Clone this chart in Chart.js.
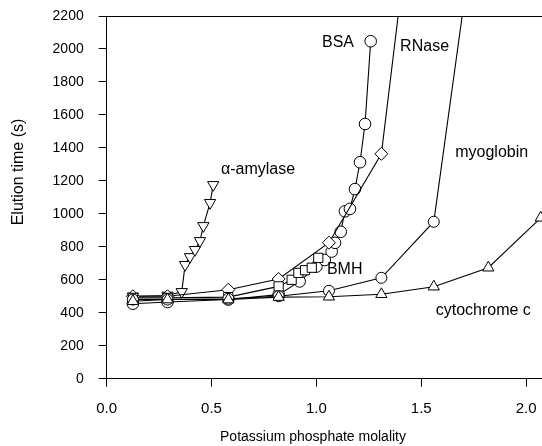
<!DOCTYPE html>
<html><head><meta charset="utf-8">
<script src="https://cdn.jsdelivr.net/npm/chart.js@4.4.0/dist/chart.umd.min.js"></script>
<style>html,body{margin:0;padding:0;background:#fff}#wrap{width:542px;height:446px}</style>
</head><body><div id="wrap"><canvas id="c" width="542" height="446"></canvas></div>
<script>
// ---- data ----
const xTicks = [0, 0.5, 1.0, 1.5, 2.0];
const yTicks = [0, 200, 400, 600, 800, 1000, 1200, 1400, 1600, 1800, 2000, 2200];

const cytoX = [0.125, 0.29, 0.58, 0.82, 1.06, 1.31, 1.56, 1.82, 2.07];
const cytoY = [470, 480, 480, 495, 497, 512, 558, 673, 976];

const myoX = [0.125, 0.29, 0.58, 0.82, 1.06, 1.31, 1.56, 1.82];
const myoY = [480, 480, 485, 500, 533, 612, 952, 3350];

const bmhX = [0.125, 0.29, 0.58, 0.82, 0.882, 0.914, 0.946, 0.978, 1.009];
const bmhY = [490, 490, 495, 560, 600, 642, 658, 673, 733];

const rnaseX = [0.125, 0.29, 0.58, 0.82, 1.06, 1.31, 1.56];
const rnaseY = [500, 500, 540, 605, 825, 1364, 3980];

const bsaX = [0.125, 0.29, 0.58, 0.82, 0.92, 1.0, 1.04, 1.073, 1.089, 1.116, 1.136, 1.16, 1.184, 1.208, 1.232, 1.259];
const bsaY = [455, 465, 480, 510, 590, 680, 720, 771, 824, 891, 1015, 1030, 1150, 1313, 1545, 2047];

const amyX = [0.125, 0.29, 0.358, 0.374, 0.397, 0.421, 0.445, 0.461, 0.493, 0.508];
const amyY = [500, 505, 527, 691, 739, 782, 836, 927, 1067, 1176];

const labelText = ['BSA', 'RNase', 'α-amylase', 'myoglobin', 'BMH', 'cytochrome c'];
const labelX = [1.103, 1.516, 0.722, 1.836, 1.135, 1.796];
const labelY = [2012, 1988, 1241, 1344, 634, 386];

const xTitle = 'Potassium phosphate molality';
const yTitle = 'Elution time (s)';

// ---- build ----
const pts = (xs, ys) => xs.map((x, i) => ({x: x, y: ys[i]}));
const FONT = '"Liberation Sans", Arial, Helvetica, sans-serif';

function ds(xs, ys, style, radius, rot) {
  return {
    data: pts(xs, ys),
    borderColor: '#000',
    borderWidth: 1.1,
    pointStyle: style,
    pointRadius: radius,
    pointRotation: rot || 0,
    pointBackgroundColor: '#fff',
    pointBorderColor: '#000',
    pointBorderWidth: 1,
    tension: 0,
    fill: false
  };
}

const deco = {
  id: 'deco',
  afterDraw(chart) {
    const {ctx, chartArea, scales} = chart;
    ctx.save();
    ctx.strokeStyle = '#000';
    ctx.lineWidth = 1;
    ctx.beginPath();
    ctx.moveTo(chartArea.left, chartArea.top + 0.5);
    ctx.lineTo(chartArea.right, chartArea.top + 0.5);
    ctx.stroke();
    ctx.fillStyle = '#000';
    ctx.font = '16px ' + FONT;
    ctx.textAlign = 'center';
    ctx.textBaseline = 'alphabetic';
    labelText.forEach((t, i) => {
      ctx.fillText(t, scales.x.getPixelForValue(labelX[i]), scales.y.getPixelForValue(labelY[i]));
    });
    ctx.font = '14px ' + FONT;
    ctx.textBaseline = 'middle';
    ctx.fillText(xTitle, 313, 437);
    ctx.translate(19, 172);
    ctx.rotate(-Math.PI / 2);
    ctx.font = '16px ' + FONT;
    ctx.fillText(yTitle, 0, 0);
    ctx.restore();
  }
};

new Chart(document.getElementById('c'), {
  type: 'line',
  data: {
    datasets: [
      ds(cytoX, cytoY, 'triangle', 6.5),
      ds(myoX, myoY, 'circle', 5.5),
      ds(bmhX, bmhY, 'rect', 6.5),
      ds(rnaseX, rnaseY, 'rectRot', 6.5),
      ds(bsaX, bsaY, 'circle', 5.8),
      ds(amyX, amyY, 'triangle', 6.5, 180)
    ]
  },
  options: {
    responsive: false,
    animation: false,
    devicePixelRatio: 1,
    layout: {autoPadding: false, padding: {top: 16, right: 0, left: 0, bottom: 0}},
    plugins: {legend: {display: false}, tooltip: {enabled: false}},
    scales: {
      x: {
        type: 'linear',
        min: 0,
        max: 2.076,
        afterFit(s) { s.height = 67.3; s.paddingLeft = 0; s.paddingRight = 0; },
        afterBuildTicks(s) { s.ticks = xTicks.map(v => ({value: v})); },
        grid: {drawOnChartArea: false, drawTicks: true, tickLength: 8, color: '#000', tickWidth: 1},
        border: {display: true, color: '#000', width: 1},
        ticks: {color: '#000', font: {family: FONT, size: 15}, padding: 13,
                callback: v => v.toFixed(1), maxRotation: 0, autoSkip: false}
      },
      y: {
        type: 'linear',
        min: 0,
        max: 2200,
        afterFit(s) { s.width = 106.7; s.paddingTop = 0; s.paddingBottom = 0; },
        afterBuildTicks(s) { s.ticks = yTicks.map(v => ({value: v})); },
        grid: {drawOnChartArea: false, drawTicks: true, tickLength: 8, color: '#000', tickWidth: 1},
        border: {display: true, color: '#000', width: 1},
        ticks: {color: '#000', font: {family: FONT, size: 14}, padding: 15, autoSkip: false,
                callback: v => String(v)}
      }
    }
  },
  plugins: [deco]
});
</script>
</body></html>
